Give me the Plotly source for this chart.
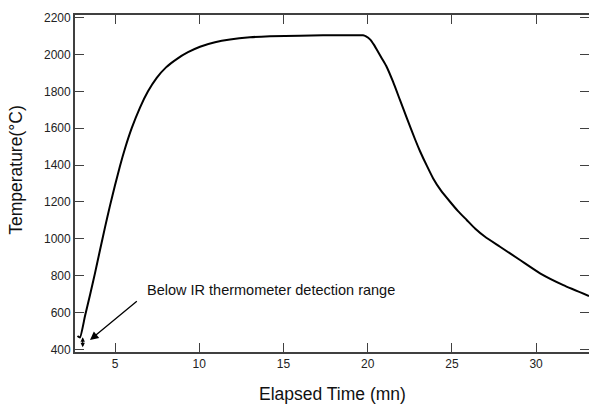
import plotly.graph_objects as go

# Elapsed time (min) and temperature (°C)
time_mn = [2.768, 2.917, 3.214, 3.511, 3.808, 4.105, 4.401, 4.698, 4.995, 5.292,
           5.589, 5.987, 6.479, 6.955, 7.472, 8.024, 8.659, 9.33, 10.043, 10.933,
           11.824, 13.01, 14.198, 15.98, 17.347, 18.653, 19.722, 19.9, 20.137, 20.375,
           20.612, 20.85, 21.13, 21.504, 21.92, 22.335, 22.81, 23.107, 23.523, 23.879,
           24.354, 24.889, 25.364, 25.88, 26.373, 26.967, 27.858, 29.045, 30.233, 31.616,
           33.14]
temp_c = [473, 465, 581, 695, 814, 939, 1062, 1180, 1290, 1395,
          1490, 1600, 1712, 1800, 1873, 1930, 1975, 2012, 2042, 2066,
          2081, 2093, 2099, 2102, 2104, 2104, 2104, 2098, 2082, 2052,
          2015, 1977, 1932, 1852, 1752, 1652, 1540, 1475, 1394, 1329,
          1261, 1201, 1150, 1102, 1056, 1011, 957, 885, 813, 749,
          690]

x_ticks = [5, 10, 15, 20, 25, 30]
y_ticks = [400, 600, 800, 1000, 1200, 1400, 1600, 1800, 2000, 2200]

x_title = "Elapsed Time (mn)"
y_title = "Temperature(°C)"
note_text = "Below IR thermometer detection range"

FONT = "Liberation Sans, Arial, sans-serif"
AXIS_COLOR = "#404040"

fig = go.Figure()
fig.add_trace(go.Scatter(x=time_mn, y=temp_c, mode="lines",
                         line=dict(color="black", width=2, shape="spline", smoothing=0.5),
                         showlegend=False, hoverinfo="skip"))

# axis titles
fig.add_annotation(x=0.5, y=-0.1246, xref="paper", yref="paper", text=x_title,
                   showarrow=False, xanchor="center", yanchor="middle",
                   font=dict(family=FONT, size=17.5, color="#111"))
fig.add_annotation(x=-0.1152, y=0.54, xref="paper", yref="paper", text=y_title,
                   showarrow=False, xanchor="center", yanchor="middle", textangle=-90,
                   font=dict(family=FONT, size=17.5, color="#111"))

# text of the note
fig.add_annotation(x=6.777, y=722, xref="x", yref="y", text=note_text,
                   showarrow=False, xanchor="left", yanchor="middle",
                   font=dict(family=FONT, size=14.5, color="#111"))
# arrow pointing to the undetected region
fig.add_annotation(x=3.511, y=451, ax=6.38, ay=668, xref="x", yref="y",
                   axref="x", ayref="y", text="", showarrow=True,
                   arrowhead=2, arrowsize=1.3, arrowwidth=1.3, arrowcolor="black")
# small double-headed arrow
fig.add_annotation(x=3.077, y=412, ax=3.077, ay=474, xref="x", yref="y",
                   axref="x", ayref="y", text="", showarrow=True,
                   arrowhead=2, arrowside="end+start", arrowsize=0.8,
                   arrowwidth=1.1, arrowcolor="black")

fig.update_layout(
    width=589, height=405,
    margin=dict(l=75, r=0, t=15, b=53),
    paper_bgcolor="white", plot_bgcolor="white",
    font=dict(family=FONT, size=12, color="#222"),
)
fig.update_xaxes(range=[2.62, 33.14], tickvals=x_ticks, ticks="inside", ticklen=9,
                 tickcolor=AXIS_COLOR, tickwidth=1.3, showline=True, linecolor=AXIS_COLOR,
                 linewidth=1.8, mirror="ticks", showgrid=False, zeroline=False,
                 automargin=False, tickfont=dict(size=12, color="#222"))
fig.update_yaxes(range=[386, 2214], tickvals=y_ticks, ticks="inside", ticklen=9,
                 tickcolor=AXIS_COLOR, tickwidth=1.3, showline=True, linecolor=AXIS_COLOR,
                 linewidth=1.8, mirror="ticks", showgrid=False, zeroline=False,
                 automargin=False, tickfont=dict(size=12, color="#222"))

fig.write_html("out.html",
               config={"displayModeBar": False},
               post_script="document.body.style.margin='0';"
                           "document.documentElement.style.overflow='hidden';")
